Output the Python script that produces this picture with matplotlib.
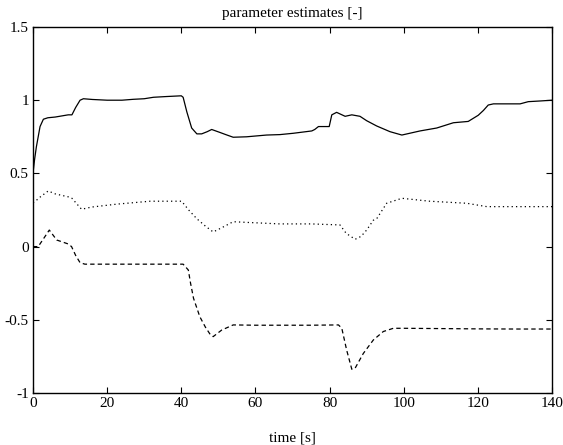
import matplotlib
matplotlib.use("Agg")
import matplotlib.pyplot as plt

plt.rcParams["font.family"] = ["Liberation Serif", "DejaVu Serif"]

# solid line
t_a = [0, 0.4, 0.9, 1.9, 2.8, 4, 6, 9.5, 10.5, 11.5, 12.7, 13.6, 16, 20, 24, 27, 30,
       32.5, 36, 40, 40.5, 41.5, 42.8, 44.2, 45.5, 47, 48.2, 50.4, 52, 54, 57.6, 63,
       66.6, 70.2, 75.2, 76, 77, 79.9, 80.6, 81.9, 84.2, 86, 88.2, 90, 92.7, 96.3,
       99.5, 104.4, 108.9, 113.4, 117.4, 120.1, 121.5, 122.8, 124.2, 131.4, 133.6,
       137, 140]
v_a = [0.5, 0.59, 0.68, 0.82, 0.87, 0.88, 0.885, 0.9, 0.9, 0.95, 1.0, 1.01, 1.005,
       1.0, 1.0, 1.006, 1.01, 1.02, 1.025, 1.03, 1.02, 0.92, 0.81, 0.77, 0.77, 0.785,
       0.80, 0.78, 0.765, 0.747, 0.75, 0.762, 0.765, 0.774, 0.79, 0.80, 0.82, 0.82,
       0.90, 0.917, 0.89, 0.90, 0.89, 0.86, 0.824, 0.785, 0.762, 0.79, 0.81, 0.846,
       0.855, 0.897, 0.93, 0.967, 0.975, 0.975, 0.99, 0.995, 1.0]

# dotted line
t_b = [0, 0.5, 2, 4.1, 6, 9.5, 10.5, 13.1, 15.8, 22.6, 31.6, 40.1, 42, 44.2, 46.5,
       48.6, 51, 54, 58, 66.6, 75, 82.8, 84.5, 86.9, 88.5, 90, 91.8, 92.7, 95.4, 99.5,
       107, 117, 122.4, 130, 140]
v_b = [0.3, 0.307, 0.34, 0.38, 0.36, 0.34, 0.33, 0.255, 0.27, 0.29, 0.31, 0.31, 0.25,
       0.19, 0.14, 0.10, 0.13, 0.17, 0.165, 0.155, 0.155, 0.148, 0.09, 0.05, 0.07,
       0.113, 0.18, 0.19, 0.296, 0.33, 0.31, 0.296, 0.273, 0.273, 0.273]

# dashed line
t_c = [0, 1.4, 3, 4.4, 6.4, 9.5, 10.4, 11.5, 12.7, 14, 20, 30, 40.5, 41.9, 42.5, 43.3,
       45, 46.5, 47.8, 48.6, 50.9, 54, 60, 66.6, 75, 82.4, 83.3, 84.6, 86, 86.9, 89.1,
       91.8, 94.5, 97.2, 99.9, 110, 120, 130, 140]
v_c = [0.0, 0.0, 0.06, 0.113, 0.045, 0.018, 0.0, -0.06, -0.11, -0.12, -0.12, -0.12,
       -0.12, -0.16, -0.25, -0.353, -0.479, -0.55, -0.60, -0.615, -0.57, -0.535,
       -0.537, -0.537, -0.537, -0.535, -0.558, -0.706, -0.838, -0.83, -0.73, -0.638,
       -0.58, -0.558, -0.558, -0.56, -0.562, -0.563, -0.563]

x_ticks = [0, 20, 40, 60, 80, 100, 120, 140]
y_ticks = [-1, -0.5, 0, 0.5, 1, 1.5]
y_labels = ["-1", "-0.5", "0", "0.5", "1", "1.5"]

fig = plt.figure(figsize=(5.63, 4.45), dpi=100)
ax = fig.add_axes([33 / 563, 1 - 393 / 445, (552 - 33) / 563, (393 - 27) / 445])

ax.plot(t_a, v_a, color="black", linewidth=0.9)
ax.plot(t_b, v_b, color="black", linewidth=0.9, linestyle=(0, (1, 2.5)))
ax.plot(t_c, v_c, color="black", linewidth=0.9, linestyle=(0, (3.5, 2.5)))

ax.set_xlim(0, 140)
ax.set_ylim(-1, 1.5)
ax.set_xticks(x_ticks)
ax.set_xticklabels([str(x) for x in x_ticks])
ax.set_yticks(y_ticks)
ax.set_yticklabels(y_labels)
ax.tick_params(direction="in", top=True, right=True, length=4, width=0.8,
               labelsize=11, pad=3)
for s in ax.spines.values():
    s.set_linewidth(1.0)

ax.set_title("parameter estimates [-]", fontsize=11, pad=7)
ax.set_xlabel("time [s]", fontsize=11, labelpad=15)

plt.savefig("out.png", dpi=100)
